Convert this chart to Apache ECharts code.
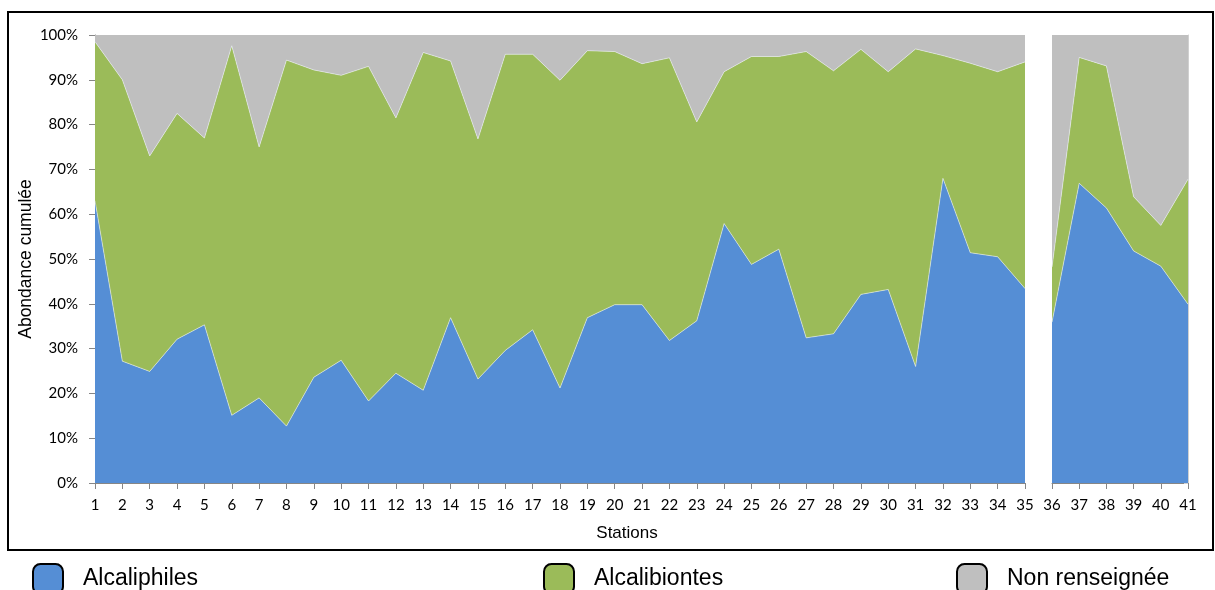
<!DOCTYPE html>
<html>
<head>
<meta charset="utf-8">
<script src="https://cdn.jsdelivr.net/npm/echarts@6/dist/echarts.min.js"></script>
<style>
    html, body { margin: 0; padding: 0; background: #fff; }
    #main { width: 1215px; height: 590px; }
</style>
</head>
<body>
<div id="main"></div>
<script>
// stations 1..41, the last 6 are drawn in a separate panel
let stations = ['1', '2', '3', '4', '5', '6', '7', '8', '9', '10',
    '11', '12', '13', '14', '15', '16', '17', '18', '19', '20',
    '21', '22', '23', '24', '25', '26', '27', '28', '29', '30',
    '31', '32', '33', '34', '35', '36', '37', '38', '39', '40', '41'];
let alcaliphiles = [63, 27.2, 24.9, 32.1, 35.3, 15.1, 19, 12.7, 23.6, 27.4,
    18.3, 24.5, 20.7, 36.9, 23.2, 29.6, 34.2, 21.2, 36.9, 39.8,
    39.8, 31.8, 36.2, 57.9, 48.8, 52.2, 32.4, 33.3, 42.1, 43.2,
    26, 68, 51.4, 50.5, 43.4, 35.9, 66.9, 61.4, 51.8, 48.4, 39.9];
let alcalibiontes = [35.5, 62.8, 48.1, 50.4, 41.7, 82.5, 56, 81.7, 68.6, 63.6,
    74.7, 57, 75.4, 57.3, 53.6, 66.1, 61.5, 68.7, 59.6, 56.5,
    53.8, 63.1, 44.4, 33.9, 46.4, 43, 63.9, 58.7, 54.7, 48.6,
    70.9, 27.4, 42.3, 41.3, 50.6, 12.3, 28.1, 31.7, 12.1, 9.1, 27.9];
let nonRenseignee = [1.5, 10, 27, 17.5, 23, 2.4, 25, 5.6, 7.8, 9,
    7, 18.5, 3.9, 5.8, 23.2, 4.3, 4.3, 10.1, 3.5, 3.7,
    6.4, 5.1, 19.4, 8.2, 4.8, 4.8, 3.7, 8, 3.2, 8.2,
    3.1, 4.6, 6.3, 8.2, 6, 51.8, 5, 6.9, 36.1, 42.5, 32.2];
let yTicks = [0, 10, 20, 30, 40, 50, 60, 70, 80, 90, 100];
let names = ['Alcaliphiles', 'Alcalibiontes', 'Non renseignée'];
let colors = ['#558ed5', '#9bbb59', '#bfbfbf'];

let split = 35;

(function() {
    let myChart = echarts.init(document.getElementById('main'));
    let tickFont = { fontFamily: 'Lato', fontSize: 15, color: '#000' };
    let axisGray = '#868686';

    function makeSeries(values, i, panel) {
        let data = panel === 0 ? values.slice(0, split) : values.slice(split);
        return {
            name: names[i],
            type: 'line',
            xAxisIndex: panel,
            yAxisIndex: panel,
            stack: 'p' + panel,
            data: data,
            showSymbol: false,
            symbol: 'none',
            silent: true,
            lineStyle: i < 2 ? { width: 0.7, color: 'rgba(235,240,245,0.8)' } : { width: 0 },
            areaStyle: { color: colors[i], opacity: 1 },
            itemStyle: { color: colors[i] }
        };
    }

    let series = [];
    [0, 1].forEach(p => {
        series.push(makeSeries(alcaliphiles, 0, p));
        series.push(makeSeries(alcalibiontes, 1, p));
        series.push(makeSeries(nonRenseignee, 2, p));
    });

    let legendLeft = [32, 543, 956];
    let legends = names.map((n, i) => ({
        data: [n],
        left: legendLeft[i],
        top: 563,
        padding: 0,
        icon: 'roundRect',
        itemWidth: 30,
        itemHeight: 30,
        selectedMode: false,
        itemStyle: { borderColor: '#000', borderWidth: 2 },
        textStyle: {
            fontFamily: 'Liberation Sans',
            fontSize: 23,
            color: '#000',
            padding: [0, 0, 0, 15]
        }
    }));

    let option = {
        animation: false,
        legend: legends,
        graphic: [{
            type: 'rect',
            shape: { x: 8, y: 12, width: 1205, height: 538 },
            style: { fill: null, stroke: '#000', lineWidth: 2 },
            silent: true
        }],
        grid: [
            { left: 95, right: 190, top: 35, bottom: 107 },
            { left: 1052, right: 27, top: 35, bottom: 107 }
        ],
        xAxis: [
            {
                gridIndex: 0,
                type: 'category',
                data: stations.slice(0, split),
                boundaryGap: false,
                name: 'Stations',
                nameLocation: 'middle',
                nameGap: 42,
                nameMoveOverlap: false,
                nameTextStyle: {
                    fontFamily: 'Liberation Sans',
                    fontSize: 17,
                    color: '#000',
                    padding: [0, 0, 0, 134]
                },
                axisLine: { lineStyle: { color: axisGray } },
                axisTick: { show: true, length: 6, interval: 0, lineStyle: { color: axisGray } },
                axisLabel: Object.assign({ interval: 0, margin: 15 }, tickFont),
                splitLine: { show: false }
            },
            {
                gridIndex: 1,
                type: 'category',
                data: stations.slice(split),
                boundaryGap: false,
                axisLine: { lineStyle: { color: axisGray } },
                axisTick: { show: true, length: 6, interval: 0, lineStyle: { color: axisGray } },
                axisLabel: Object.assign({ interval: 0, margin: 15 }, tickFont),
                splitLine: { show: false }
            }
        ],
        yAxis: [
            {
                gridIndex: 0,
                type: 'value',
                min: yTicks[0],
                max: yTicks[yTicks.length - 1],
                interval: 10,
                name: 'Abondance cumulée',
                nameLocation: 'middle',
                nameGap: 60,
                nameMoveOverlap: false,
                nameTextStyle: { fontFamily: 'Liberation Sans', fontSize: 17.5, color: '#000' },
                axisLine: { show: true, lineStyle: { color: axisGray } },
                axisTick: { show: true, length: 6, lineStyle: { color: axisGray } },
                axisLabel: Object.assign({ margin: 17, formatter: '{value}%' }, tickFont),
                splitLine: { show: false }
            },
            {
                gridIndex: 1,
                type: 'value',
                position: 'right',
                min: yTicks[0],
                max: yTicks[yTicks.length - 1],
                interval: 10,
                axisLine: { show: true, lineStyle: { color: '#d0d0d0' } },
                axisTick: { show: true, inside: true, length: 4, lineStyle: { color: '#d0d0d0' } },
                axisLabel: { show: false },
                splitLine: { show: false }
            }
        ],
        series: series
    };
    myChart.setOption(option);
})();
</script>
</body>
</html>
